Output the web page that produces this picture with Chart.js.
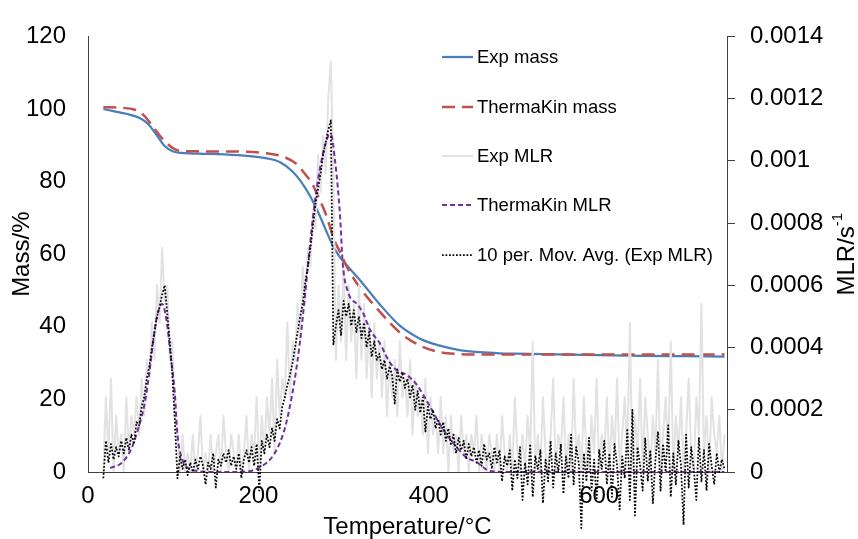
<!DOCTYPE html>
<html>
<head>
<meta charset="utf-8">
<script src="https://cdn.jsdelivr.net/npm/chart.js@4.4.1/dist/chart.umd.min.js"></script>
<style>
  html, body { margin: 0; padding: 0; background: #fff; }
  #wrap { width: 858px; height: 539px; }
</style>
</head>
<body>
<div id="wrap"><canvas id="tga" width="858" height="539"></canvas></div>
<script>
/* TGA run: measured vs ThermaKin mass and mass loss rate */

// mass curves, % of initial, against temperature in °C
const expMassT = [18, 30, 45, 60, 70, 80, 90, 100, 110, 130, 160, 190, 210, 225, 240, 250, 260, 270, 280, 287,
  295, 305, 320, 342, 366, 389, 413, 436, 460, 483, 500, 550, 600, 650, 700, 747];
const expMass = [100.0, 99.4, 98.7, 97.6, 96.0, 93.0, 89.8, 88.3, 87.9, 87.7, 87.5, 87.0, 86.4, 85.4, 82.8, 80.0, 76.3, 71.6, 66.2, 62.5,
  59.4, 56.6, 52.6, 46.3, 40.3, 36.8, 34.8, 33.6, 33.0, 32.7, 32.6, 32.4, 32.2, 32.0, 31.9, 31.8];

const tkMassT = [18, 40, 55, 65, 76, 88, 100, 110, 170, 210, 230, 245, 255, 263, 270, 280, 288, 296, 305, 320,
  342, 366, 389, 413, 436, 460, 500, 600, 747];
const tkMass = [100.5, 100.3, 99.8, 98.4, 95.2, 91.6, 89.2, 88.4, 88.3, 87.8, 86.8, 84.8, 82.0, 79.5, 76.0, 70.5, 64.5, 60.5, 56.0, 50.5,
  44.3, 38.4, 34.9, 33.0, 32.5, 32.4, 32.4, 32.4, 32.4];

// MLR values below are in units of 1e-5 s^-1
const MLR_UNIT = 1e-5;

const tkMlrT = [26, 39, 50, 59, 67, 73, 79, 84, 87, 92, 97, 102, 105, 111, 117, 129, 150, 180, 200, 219,
  231, 239, 245, 251, 258, 264, 270, 276, 282, 285, 290, 296, 299, 305, 317, 323, 331, 342, 354, 362,
  374, 386, 398, 409, 421, 433, 444, 456, 472, 500, 600, 747];
const tkMlr = [1.3, 2.8, 7, 14, 22.7, 34, 47, 53, 54, 49, 37.5, 25, 12, 3.8, 1.3, 0.3, 0, 0, 1.3, 6,
  14, 24, 34, 47, 66, 81.7, 94, 102.5, 108, 108.5, 100, 81.7, 67, 58, 53.6, 51, 45.7, 41.6, 35.3, 32.8,
  31.2, 28, 22.7, 17.3, 12, 7.9, 4.7, 3.2, 0.3, 0, 0, 0];

// experimental MLR and its 10 period moving average, one reading every 3 °C from 18 °C
const expMlrStartT = 18;
const expMlrStepT = 3;
const expMlr = [
  0, 24, 6, 30, 0, 18, 6, 12, 0, 24,          // 18
  6, 18, 12, 24, 12, 30, 18, 36, 30, 48,      // 48
  36, 60, 48, 72, 54, 60, 36, 42, 18, 12,     // 78
  0, 12, 0, 6, 0, 12, 0, 6, 18, 0,            // 108
  6, 0, 12, 0, 6, 12, 0, 18, 6, 0,            // 138
  12, 6, 0, 12, 0, 6, 18, 0, 12, 6,           // 168
  24, 0, 18, 6, 24, 12, 30, 6, 36, 18,        // 198
  30, 24, 48, 24, 42, 36, 54, 42, 66, 54,     // 228
  72, 66, 84, 78, 102, 90, 108, 96, 120, 132, // 258
  96, 36, 60, 42, 66, 36, 60, 42, 54, 30,     // 288
  60, 36, 54, 30, 48, 24, 48, 30, 42, 24,     // 318
  42, 18, 36, 24, 36, 18, 42, 24, 30, 18,     // 348
  36, 12, 30, 18, 24, 12, 30, 6, 24, 12,      // 378
  18, 6, 24, 6, 18, 0, 18, 6, 12, 0,          // 408
  18, 6, 12, 0, 12, 6, 18, 0, 12, 6,          // 438
  0, 12, 6, 0, 12, 0, 18, 6, 0, 12,           // 468
  0, 24, 6, 0, 12, 0, 18, 6, 42, 0,           // 498
  12, 0, 24, 6, 0, 12, 30, 0, 12, 6,          // 528
  24, 0, 12, 0, 30, 6, 12, 0, 24, 6,          // 558
  0, 18, 6, 30, 0, 12, 6, 24, 0, 18,          // 588
  6, 30, 0, 12, 24, 6, 48, 0, 18, 6,          // 618
  30, 0, 24, 12, 0, 18, 6, 36, 0, 12,         // 648
  24, 6, 42, 0, 18, 6, 24, 0, 12, 30,         // 678
  6, 0, 24, 12, 54, 6, 18, 0, 24, 12,         // 708
  6, 18, 0, 12                                // 738
];
const expMlrAvg = [
  -2, 10, 3, 9, 4, 8, 5, 10, 6, 11,           // 18
  7, 12, 9, 16, 15, 21, 24, 30, 34, 40,       // 48
  45, 50, 53, 57, 60, 51, 42, 31, 16, -2,     // 78
  5, 1, 4, -1, 3, 0, 4, 1, 5, 2,              // 108
  -4, 3, 1, 6, -5, 4, 2, 6, 3, 7,             // 138
  2, 5, 1, 6, -2, 4, 7, 3, 8, 2,              // 168
  9, -6, 10, 6, 12, 8, 14, 10, 17, 14,        // 198
  21, 24, 28, 31, 35, 40, 45, 50, 54, 61,     // 228
  66, 72, 79, 86, 91, 96, 102, 106, 110, 113, // 258
  41, 47, 52, 44, 55, 50, 54, 47, 52, 45,     // 288
  50, 43, 48, 40, 45, 37, 42, 36, 38, 33,     // 318
  36, 30, 34, 31, 22, 33, 29, 32, 27, 30,     // 348
  24, 28, 20, 26, 19, 24, 13, 21, 17, 20,     // 378
  14, 17, 12, 16, 10, 14, 9, 12, 6, 11,       // 408
  7, 10, 4, 9, 5, 8, 3, 7, 2, 9,              // 438
  4, 6, 1, 8, 3, 7, -3, 5, 2, 7,              // 468
  -6, 4, -2, 8, -9, 3, -4, 9, -8, 5,          // 498
  1, 7, -10, 4, -3, 10, -5, 6, 0, 9,          // 528
  -7, 5, -2, 12, -4, 8, 3, -18, 6, -3,        // 558
  11, -6, 4, -9, 7, 1, 10, -4, 6, -8,         // 588
  9, 2, -12, 5, -2, 14, -9, 20, -14, 8,       // 618
  2, -6, 11, -3, 7, -10, 4, 13, -6, 9,        // 648
  0, 15, -8, 6, -4, 10, 2, -17, 12, -5,       // 678
  8, 1, -9, 11, -3, 7, -6, 9, 2, -4,          // 708
  6, 0, 4, 1                                  // 738
];

const xTicks = [0, 200, 400, 600];
const massTicks = [0, 20, 40, 60, 80, 100, 120];
const mlrTicks = [0, 0.0002, 0.0004, 0.0006, 0.0008, 0.001, 0.0012, 0.0014];

const pairs = (xs, ys, k = 1) => ys.map((v, i) => ({ x: xs[i], y: v * k }));
const gridPairs = (ys, k) => ys.map((v, i) => ({ x: expMlrStartT + i * expMlrStepT, y: v * k }));

const FONT = '"Liberation Sans", Arial, sans-serif';
Chart.defaults.font.family = FONT;
Chart.defaults.color = '#000';

// legend sits inside the plot, top right, like the spreadsheet original
const legendRowsY = [57, 107, 156, 205, 255];
const insideLegend = {
  id: 'insideLegend',
  afterDraw(chart) {
    const ctx = chart.ctx;
    ctx.save();
    chart.data.datasets.forEach((ds, i) => {
      const y = legendRowsY[i];
      ctx.strokeStyle = ds.borderColor;
      ctx.lineWidth = ds.borderWidth;
      ctx.setLineDash(ds.borderDash || []);
      ctx.beginPath();
      ctx.moveTo(442, y);
      ctx.lineTo(473, y);
      ctx.stroke();
      ctx.setLineDash([]);
      ctx.fillStyle = '#000';
      ctx.font = '18.5px ' + FONT;
      ctx.textBaseline = 'middle';
      ctx.fillText(ds.label, 477, y + 1);
    });
    ctx.restore();
  }
};

// secondary axis title reads bottom-to-top, Chart.js would turn it the other way
const rightTitle = {
  id: 'rightTitle',
  afterDraw(chart) {
    const { ctx, chartArea } = chart;
    const cy = (chartArea.top + chartArea.bottom) / 2;
    ctx.save();
    ctx.translate(846, cy);
    ctx.rotate(-Math.PI / 2);
    ctx.fillStyle = '#000';
    ctx.textBaseline = 'middle';
    ctx.textAlign = 'left';
    const main = 'MLR/s';
    const sup = '-1';
    ctx.font = '24px ' + FONT;
    const wMain = ctx.measureText(main).width;
    ctx.font = '15px ' + FONT;
    const wSup = ctx.measureText(sup).width;
    const x0 = -(wMain + wSup) / 2;
    ctx.font = '24px ' + FONT;
    ctx.fillText(main, x0, 1);
    ctx.font = '15px ' + FONT;
    ctx.fillText(sup, x0 + wMain, -8);
    ctx.restore();
  }
};

const axisColor = '#404040';

new Chart(document.getElementById('tga'), {
  type: 'line',
  data: {
    datasets: [
      {
        label: 'Exp mass',
        data: pairs(expMassT, expMass),
        yAxisID: 'y',
        borderColor: '#4a7ebb',
        borderWidth: 2.25,
        cubicInterpolationMode: 'monotone',
        order: 4
      },
      {
        label: 'ThermaKin mass',
        data: pairs(tkMassT, tkMass),
        yAxisID: 'y',
        borderColor: '#c0504d',
        borderWidth: 2.5,
        borderDash: [13, 7],
        cubicInterpolationMode: 'monotone',
        order: 3
      },
      {
        label: 'Exp MLR',
        data: gridPairs(expMlr, MLR_UNIT),
        yAxisID: 'y1',
        borderColor: '#e2e2e2',
        borderWidth: 2,
        borderJoinStyle: 'round',
        order: 2
      },
      {
        label: 'ThermaKin MLR',
        data: pairs(tkMlrT, tkMlr, MLR_UNIT),
        yAxisID: 'y1',
        borderColor: '#7030a0',
        borderWidth: 2,
        borderDash: [5, 3],
        cubicInterpolationMode: 'monotone',
        order: 1
      },
      {
        label: '10 per. Mov. Avg. (Exp MLR)',
        data: gridPairs(expMlrAvg, MLR_UNIT),
        yAxisID: 'y1',
        borderColor: '#000',
        borderWidth: 1.75,
        borderDash: [1.75, 1.75],
        borderJoinStyle: 'round',
        clip: false,
        order: 0
      }
    ]
  },
  options: {
    responsive: false,
    animation: false,
    devicePixelRatio: 1,
    layout: { padding: { top: 28, left: 0, right: 0, bottom: 0 } },
    elements: {
      point: { radius: 0 },
      line: { tension: 0, fill: false }
    },
    plugins: {
      legend: { display: false },
      tooltip: { enabled: false }
    },
    scales: {
      x: {
        type: 'linear',
        min: 0,
        max: 750,
        afterBuildTicks: s => { s.ticks = xTicks.map(v => ({ value: v })); },
        afterFit: s => { s.height = 67; },
        grid: { display: false, drawTicks: false },
        border: { display: true, color: axisColor, width: 1 },
        ticks: { padding: 10, font: { size: 24 }, maxRotation: 0, callback: v => String(v) },
        title: { display: true, text: 'Temperature/°C', font: { size: 24, lineHeight: 1 }, padding: 0 }
      },
      y: {
        position: 'left',
        min: 0,
        max: 120,
        afterBuildTicks: s => { s.ticks = massTicks.map(v => ({ value: v })); },
        afterFit: s => { s.width = 88; },
        grid: { display: false, drawTicks: false },
        border: { display: true, color: axisColor, width: 1 },
        ticks: { padding: 22, font: { size: 24 }, callback: v => String(v) },
        title: { display: true, text: 'Mass/%', font: { size: 24, lineHeight: 1 }, padding: { top: 10 } }
      },
      y1: {
        position: 'right',
        min: 0,
        max: 0.0014,
        afterBuildTicks: s => { s.ticks = mlrTicks.map(v => ({ value: v })); },
        afterFit: s => { s.width = 131; },
        grid: { display: true, drawOnChartArea: false, drawTicks: true, tickLength: 8, color: axisColor },
        border: { display: true, color: axisColor, width: 1 },
        ticks: { padding: 15, font: { size: 24 }, callback: v => String(+v.toFixed(4)) },
        title: { display: false }
      }
    }
  },
  plugins: [insideLegend, rightTitle]
});
</script>
</body>
</html>
